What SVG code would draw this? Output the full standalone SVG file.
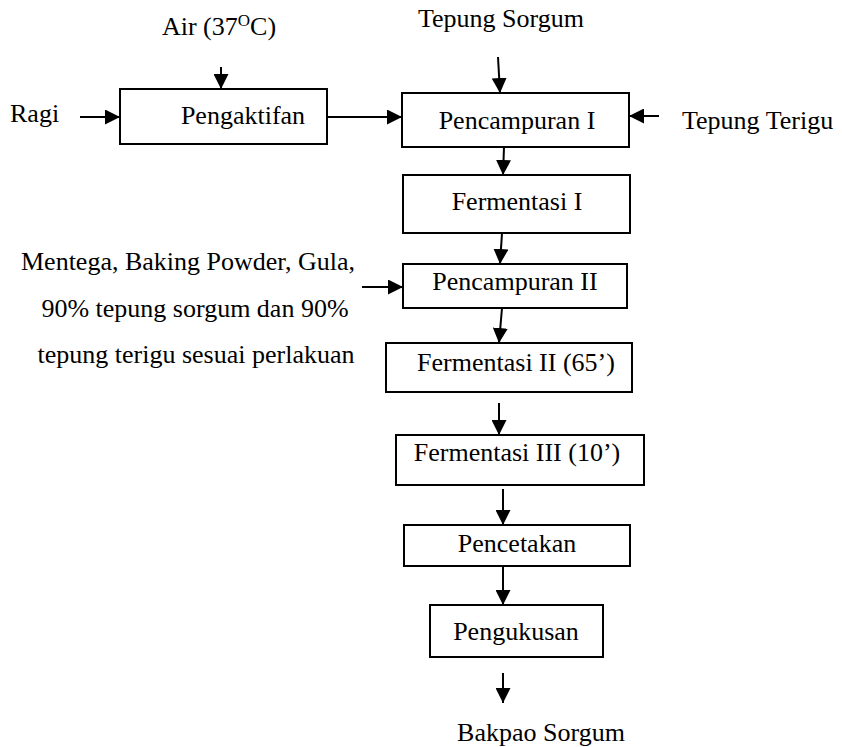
<svg xmlns="http://www.w3.org/2000/svg" width="842" height="747" viewBox="0 0 842 747">
<style>
text{font-family:"Liberation Serif","Times New Roman",serif;font-size:26px;fill:#000}
.m{text-anchor:middle}
.box{fill:#fff;stroke:#000;stroke-width:2}
.c line{stroke:#000;stroke-width:2;marker-end:url(#ah)}
</style>
<defs>
<marker id="ah" viewBox="0 0 10 10" refX="10" refY="5" markerWidth="7.5" markerHeight="7.5" markerUnits="strokeWidth" orient="auto">
<path d="M0,0 L10,5 L0,10 z" fill="#000"/>
</marker>
</defs>
<rect width="842" height="747" fill="#fff"/>
<g id="air"><text class="m" x="219" y="35">Air (37<tspan font-size="17" dy="-9">O</tspan><tspan dy="9">C)</tspan></text></g>
<g id="ragi"><text x="10" y="122">Ragi</text></g>
<g id="sorgum"><text class="m" x="501" y="27">Tepung Sorgum</text></g>
<g id="terigu"><text x="682" y="129">Tepung Terigu</text></g>
<g id="bahan">
<text class="m" x="188" y="270">Mentega, Baking Powder, Gula,</text>
<text class="m" x="195" y="317">90% tepung sorgum dan 90%</text>
<text class="m" x="196" y="363">tepung terigu sesuai perlakuan</text>
</g>
<g id="pengaktifan"><rect class="box" x="120" y="89" width="207" height="55"/><text class="m" x="243" y="124">Pengaktifan</text></g>
<g id="pencampuran1"><rect class="box" x="402" y="93" width="227" height="54"/><text class="m" x="517" y="129">Pencampuran I</text></g>
<g id="fermentasi1"><rect class="box" x="403" y="175" width="227" height="58"/><text class="m" x="517" y="210">Fermentasi I</text></g>
<g id="pencampuran2"><rect class="box" x="403" y="264" width="224" height="44"/><text class="m" x="515" y="290">Pencampuran II</text></g>
<g id="fermentasi2"><rect class="box" x="386" y="343" width="246" height="49"/><text class="m" x="516" y="371">Fermentasi II (65’)</text></g>
<g id="fermentasi3"><rect class="box" x="396" y="435" width="248" height="50"/><text class="m" x="517" y="461">Fermentasi III (10’)</text></g>
<g id="pencetakan"><rect class="box" x="404" y="525" width="226" height="41"/><text class="m" x="517" y="552">Pencetakan</text></g>
<g id="pengukusan"><rect class="box" x="430" y="605" width="173" height="52"/><text class="m" x="516" y="640">Pengukusan</text></g>
<g id="bakpao"><text class="m" x="541" y="741">Bakpao Sorgum</text></g>
<g class="c" id="connectors">
<line x1="221" y1="67" x2="221" y2="89"/>
<line x1="80" y1="117" x2="120" y2="117"/>
<line x1="327" y1="117" x2="402" y2="117"/>
<line x1="498" y1="57" x2="500" y2="93"/>
<line x1="659" y1="116" x2="629" y2="116"/>
<line x1="504" y1="147" x2="503" y2="175"/>
<line x1="502" y1="233" x2="500" y2="264"/>
<line x1="362" y1="287" x2="403" y2="287"/>
<line x1="502" y1="308" x2="499" y2="343"/>
<line x1="499" y1="403" x2="499" y2="435"/>
<line x1="503" y1="489" x2="503" y2="525"/>
<line x1="503" y1="566" x2="503" y2="605"/>
<line x1="503" y1="673" x2="503" y2="703"/>
</g>
</svg>
